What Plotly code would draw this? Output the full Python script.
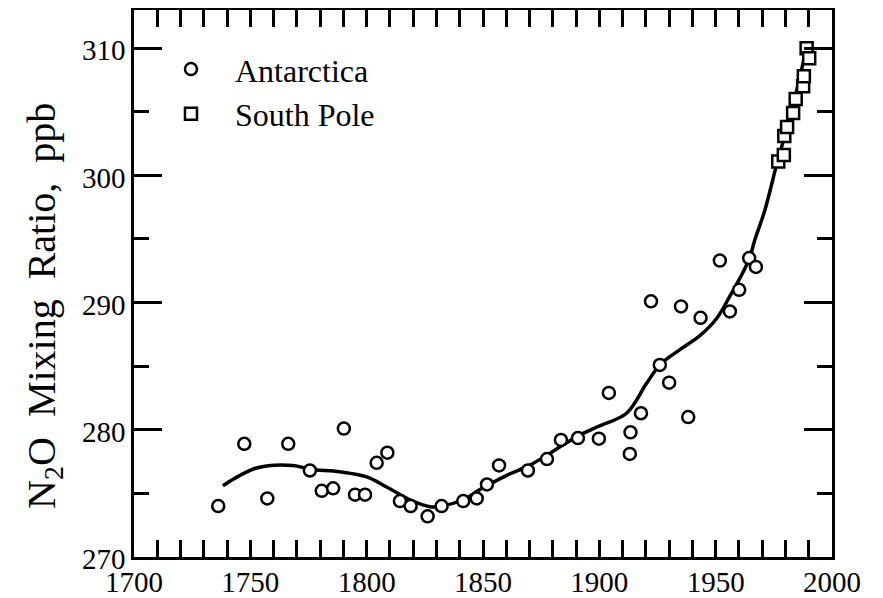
import plotly.graph_objects as go

# Antarctica ice-core data (circles)
ant_year = [1736.2, 1747.4, 1757.3, 1766.3, 1775.6, 1780.7, 1785.6, 1790.2, 1795.0, 1799.3,
            1804.3, 1808.9, 1814.3, 1818.9, 1826.2, 1832.2, 1841.5, 1847.3, 1851.7, 1856.9,
            1869.3, 1877.5, 1883.5, 1890.8, 1899.8, 1904.1, 1913.4, 1913.1, 1917.9, 1922.2,
            1926.0, 1930.0, 1935.1, 1938.2, 1943.5, 1951.8, 1956.1, 1960.1, 1964.4, 1967.3]
ant_n2o = [274.0, 278.9, 274.6, 278.9, 276.8, 275.2, 275.4, 280.1, 274.9, 274.9,
           277.4, 278.2, 274.4, 274.0, 273.2, 274.0, 274.4, 274.6, 275.7, 277.2,
           276.8, 277.7, 279.2, 279.35, 279.3, 282.9, 279.8, 278.1, 281.3, 290.1,
           285.1, 283.7, 289.7, 281.0, 288.8, 293.3, 289.3, 291.0, 293.5, 292.8]

# South Pole atmospheric data (squares)
sp_year = [1976.9, 1979.3, 1979.5, 1980.7, 1983.3, 1984.4, 1987.6, 1987.9, 1989.1, 1990.2]
sp_n2o = [301.1, 301.6, 303.1, 303.8, 304.9, 306.0, 307.0, 307.8, 310.0, 309.2]

# Smoothed fit curve
fit_year = [1738.2, 1752.7, 1768.3, 1775.6, 1788.5, 1800.0, 1808.6, 1818.6, 1827.2, 1832.2,
            1841.4, 1848.7, 1860.0, 1870.0, 1880.0, 1891.7, 1900.0, 1911.7, 1920.3, 1926.0,
            1934.6, 1943.2, 1950.4, 1956.1, 1961.8, 1964.7, 1966.8, 1971.2, 1976.7, 1981.9, 1988.8]
fit_n2o = [275.6, 277.0, 277.2, 276.9, 276.7, 276.3, 275.5, 274.5, 273.95, 274.0,
           274.5, 275.3, 276.4, 277.2, 278.3, 279.6, 280.3, 281.3, 283.65, 285.1,
           286.3, 287.4, 288.75, 290.5, 292.4, 293.6, 294.9, 297.3, 301.2, 304.5, 309.8]

x_ticks = [1700, 1750, 1800, 1850, 1900, 1950, 2000]
y_ticks = [270, 280, 290, 300, 310]
y_title = "N<sub>2</sub>O\u00a0 Mixing\u00a0 Ratio,\u00a0 ppb"

FONT = "Liberation Serif, Times New Roman, serif"

fig = go.Figure()
fig.add_trace(go.Scatter(x=fit_year, y=fit_n2o, mode="lines",
                         line=dict(color="black", width=3.5, shape="spline", smoothing=1.0),
                         showlegend=False, hoverinfo="skip"))
fig.add_trace(go.Scatter(x=ant_year, y=ant_n2o, mode="markers", name="Antarctica",
                         marker=dict(symbol="circle", size=12, color="white",
                                     line=dict(color="black", width=2.5))))
fig.add_trace(go.Scatter(x=sp_year, y=sp_n2o, mode="markers", name="South Pole",
                         marker=dict(symbol="square", size=12, color="white",
                                     line=dict(color="black", width=2.5))))

fig.update_layout(
    width=883, height=598,
    margin=dict(l=126, r=59, t=2, b=49, autoexpand=False),
    paper_bgcolor="white", plot_bgcolor="white",
    font=dict(family=FONT, color="black", size=29),
    legend=dict(x=0.0186, y=0.942, xanchor="left", yanchor="top",
                bgcolor="rgba(0,0,0,0)", font=dict(size=32, family=FONT),
                itemwidth=78),
    annotations=[dict(text=y_title, textangle=-90, xref="paper", yref="paper",
                      x=-0.129, y=0.459, xanchor="center", yanchor="middle",
                      showarrow=False, font=dict(size=40, family=FONT, color="black"))],
)
fig.update_xaxes(range=[1700, 2000], tickvals=x_ticks,
                 ticks="inside", ticklen=17, tickwidth=2.5, tickcolor="black",
                 minor=dict(dtick=10, ticks="inside", ticklen=17, tickwidth=2.5, tickcolor="black"),
                 showline=True, linewidth=2.5, linecolor="black", mirror="ticks",
                 showgrid=False, zeroline=False, ticklabelstandoff=-3, automargin=False,
                 tickfont=dict(size=29, family=FONT))
fig.update_yaxes(range=[270, 313], tickvals=y_ticks,
                 ticks="inside", ticklen=28, tickwidth=2.5, tickcolor="black",
                 minor=dict(dtick=5, ticks="inside", ticklen=15, tickwidth=2.5, tickcolor="black"),
                 showline=True, linewidth=2.5, linecolor="black", mirror="ticks",
                 showgrid=False, zeroline=False, ticklabelstandoff=0, ticklabelshift=2,
                 automargin=False, tickfont=dict(size=29, family=FONT))

fig.write_html("out.html")
